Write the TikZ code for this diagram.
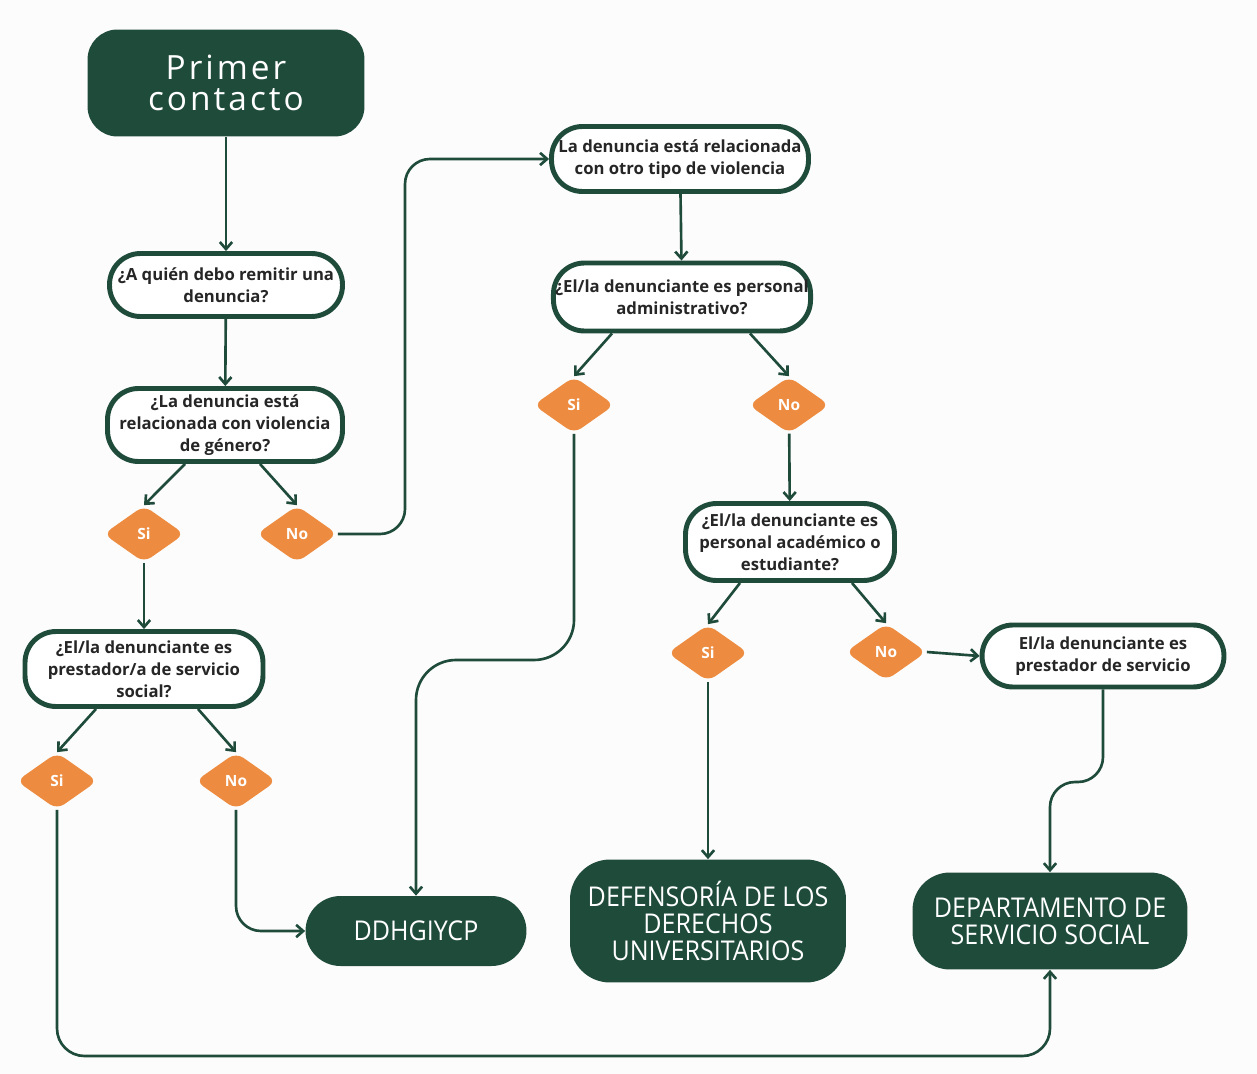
\documentclass[tikz,border=0pt]{standalone}
\usepackage{fontspec}
\setmainfont{Open Sans}
\newfontfamily\capsfont[FakeStretch=0.92]{Open Sans}
\newfontfamily\widefont[LetterSpace=9]{Open Sans}
\usetikzlibrary{shapes.geometric,arrows.meta}
\definecolor{verde}{HTML}{1F4B3B}
\definecolor{naranja}{HTML}{ED8C40}
\definecolor{fondo}{HTML}{FCFCFC}

\tikzset{
  pregunta/.style={draw=verde, line width=2.8pt, fill=white, rounded corners=0.62cm, align=center, inner sep=1pt,
    font=\fontsize{9.5}{12.5}\selectfont\bfseries, text=black!85},
  destino/.style={fill=verde, align=center, inner sep=1pt, text=white, font=\capsfont\fontsize{15.5}{15.6}\selectfont},
  opcion/.style={diamond, fill=naranja, rounded corners=5pt, inner sep=0pt, minimum width=1.62cm, minimum height=1.14cm,
    text=white, font=\fontsize{8.8}{10}\selectfont\bfseries},
  flecha/.style={->, draw=verde, line width=1.5pt}
}

\begin{document}
\begin{tikzpicture}[x=0.02cm, y=-0.02cm, >={Straight Barb[length=4pt,width=7pt]}]
        \fill[fondo] (0,0) rectangle (1257,1074);
        \useasboundingbox (0,0) rectangle (1257,1074);

        \node[destino, rounded corners=0.6cm, minimum width=5.54cm, minimum height=2.14cm, font=\widefont\fontsize{19}{17.8}\selectfont] at (226,83) (prim) {Primer\\contacto};
        \node[pregunta, minimum width=4.66cm, minimum height=1.26cm] at (226,285) (remitir) {¿A quién debo remitir una\\denuncia?};
        \node[pregunta, minimum width=4.70cm, minimum height=1.46cm] at (225,425) (genero) {¿La denuncia está\\relacionada con violencia\\de género?};
        \node[opcion] at (144,534) (si1) {Si};
        \node[opcion] at (297,534) (no1) {No};
        \node[pregunta, minimum width=4.76cm, minimum height=1.50cm] at (144,669) (servicio) {¿El/la denunciante es\\prestador/a de servicio\\social?};
        \node[opcion] at (57,781) (si2) {Si};
        \node[opcion] at (236,781) (no2) {No};

        \node[pregunta, minimum width=5.14cm, minimum height=1.30cm] at (680,159) (otro) {La denuncia está relacionada\\con otro tipo de violencia};
        \node[pregunta, minimum width=5.14cm, minimum height=1.36cm] at (682,297) (admin) {¿El/la denunciante es personal\\administrativo?};
        \node[opcion] at (574,405) (si3) {Si};
        \node[opcion] at (789,405) (no3) {No};
        \node[pregunta, minimum width=4.18cm, minimum height=1.54cm] at (790,542) (academico) {¿El/la denunciante es\\personal académico o\\estudiante?};
        \node[opcion] at (708,653) (si4) {Si};
        \node[opcion] at (886,652) (no4) {No};
        \node[pregunta, minimum width=4.84cm, minimum height=1.24cm] at (1103,656) (prestador) {El/la denunciante es\\prestador de servicio};

        \node[destino, rounded corners=0.7cm, minimum width=4.42cm, minimum height=1.40cm] at (416,931) (ddh) {DDHGIYCP};
        \node[destino, rounded corners=0.8cm, minimum width=5.52cm, minimum height=2.46cm] at (708,921) (defensoria) {DEFENSORÍA DE LOS\\DERECHOS\\UNIVERSITARIOS};
        \node[destino, rounded corners=0.75cm, minimum width=5.50cm, minimum height=1.94cm] at (1050,921) (depto) {DEPARTAMENTO DE\\SERVICIO SOCIAL};

        \coordinate (subida) at (405,0);
        \coordinate (medio) at (0,660);
        \coordinate (lado) at (0,782);
        \coordinate (bajo) at (0,1056);

        \draw[flecha] (prim) -- (remitir);
        \draw[flecha] (remitir) -- (genero);
        \draw[flecha] ([xshift=-0.8cm]genero.south) -- (si1.north);
        \draw[flecha] ([xshift=0.7cm]genero.south) -- (no1.north);
        \draw[flecha] (si1) -- (servicio);
        \draw[flecha] ([xshift=-0.96cm]servicio.south) -- (si2.north);
        \draw[flecha] ([xshift=1.08cm]servicio.south) -- (no2.north);
        \draw[flecha, rounded corners=0.5cm] (no2.south) |- (ddh.west);
        \draw[flecha, rounded corners=0.55cm] (si2.south) -- (si2.south |- bajo) -| (depto.south);
        \draw[flecha, rounded corners=0.5cm] (no1.east) -| (subida |- otro.west) -- (otro.west);

        \draw[flecha] (otro) -- (admin);
        \draw[flecha] ([xshift=-1.4cm]admin.south) -- (si3.north);
        \draw[flecha] ([xshift=1.36cm]admin.south) -- (no3.north);
        \draw[flecha, rounded corners=0.8cm] (si3.south) -- (si3.south |- medio) -| (ddh.north);
        \draw[flecha] (no3) -- (academico);
        \draw[flecha] ([xshift=-1.0cm]academico.south) -- (si4.north);
        \draw[flecha] ([xshift=1.24cm]academico.south) -- (no4.north);
        \draw[flecha] (no4.east) -- (prestador.west);
        \draw[flecha] (si4) -- (defensoria);
        \draw[flecha, rounded corners=0.5cm] (prestador.south) -- (prestador.south |- lado) -| (depto.north);
\end{tikzpicture}
\end{document}
